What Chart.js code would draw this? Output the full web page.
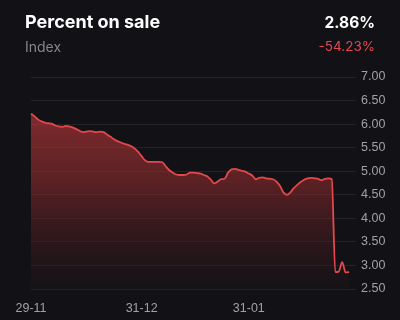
<!DOCTYPE html>
<html>
<head>
<meta charset="utf-8">
<script src="https://cdn.jsdelivr.net/npm/chart.js@4.4.1/dist/chart.umd.min.js"></script>
<style>
    html, body { margin: 0; padding: 0; background: #121216; }
    #wrap { position: relative; width: 400px; height: 320px; overflow: hidden; font-family: Inter, "Noto Sans", sans-serif; }
    #chart-box { position: absolute; left: 0; top: 0; width: 400px; height: 320px; }
    .title { position: absolute; left: 25px; top: 11px; color: #ffffff; font-size: 18px; font-weight: 700; }
    .sub { position: absolute; left: 25px; top: 38px; color: #85858b; font-size: 14px; }
    .value { position: absolute; right: 25px; top: 13px; color: #ffffff; font-size: 15.5px; font-weight: 700; }
    .change { position: absolute; right: 25px; top: 38px; color: #e5484d; font-size: 13.5px; }
</style>
</head>
<body>
<div id="wrap">
    <div id="chart-box"><canvas id="sale-chart"></canvas></div>
    <div class="title">Percent on sale</div>
    <div class="sub">Index</div>
    <div class="value">2.86%</div>
    <div class="change">-54.23%</div>
</div>
<script>
// daily series, 29-11 to 29-02
const startDate = '2023-11-29';
const dayCount = 95;
const shownTicks = ['29-11', '31-12', '31-01'];
const yTicks = [2.5, 3, 3.5, 4, 4.5, 5, 5.5, 6, 6.5, 7];
const percentOnSale = [
    6.22, 6.17, 6.10, 6.06, 6.03, 6.02, 6.01, 5.97, 5.95, 5.94,
    5.96, 5.95, 5.93, 5.90, 5.86, 5.83, 5.84, 5.85, 5.84, 5.83,
    5.84, 5.83, 5.78, 5.73, 5.68, 5.64, 5.61, 5.58, 5.56, 5.53,
    5.48, 5.41, 5.32, 5.23, 5.20, 5.20, 5.20, 5.20, 5.19, 5.10,
    5.02, 4.97, 4.93, 4.92, 4.92, 4.93, 4.97, 4.97, 4.96, 4.95,
    4.92, 4.89, 4.82, 4.74, 4.78, 4.83, 4.84, 4.97, 5.04, 5.05,
    5.03, 5.01, 4.99, 4.95, 4.91, 4.83, 4.86, 4.87, 4.85, 4.84,
    4.83, 4.78, 4.69, 4.55, 4.50, 4.55, 4.64, 4.71, 4.77, 4.82,
    4.85, 4.86, 4.85, 4.84, 4.81, 4.84, 4.85, 4.83, 2.86, 2.87,
    3.07, 2.85, 2.86
];

// build dd-mm labels
const labels = [];
const d0 = new Date(startDate + 'T12:00:00Z');
for (let i = 0; i < dayCount; i++) {
    const d = new Date(d0.getTime() + i * 86400000);
    const dd = String(d.getUTCDate()).padStart(2, '0');
    const mm = String(d.getUTCMonth() + 1).padStart(2, '0');
    labels.push(dd + '-' + mm);
}

const ctx = document.getElementById('sale-chart');

new Chart(ctx, {
    type: 'line',
    data: {
        labels: labels,
        datasets: [{
            data: percentOnSale,
            borderColor: '#e4484c',
            borderWidth: 1.8,
            pointRadius: 0,
            cubicInterpolationMode: 'monotone',
            fill: 'start',
            backgroundColor: function(context) {
                const area = context.chart.chartArea;
                if (!area) return 'rgba(200,60,60,0.5)';
                const g = context.chart.ctx.createLinearGradient(0, area.top, 0, area.bottom);
                g.addColorStop(0, 'rgba(205,62,64,0.72)');
                g.addColorStop(0.5, 'rgba(150,45,48,0.55)');
                g.addColorStop(1, 'rgba(30,20,24,0.3)');
                return g;
            }
        }]
    },
    options: {
        responsive: true,
        maintainAspectRatio: false,
        animation: false,
        layout: { padding: { top: 77, right: 15, bottom: 0, left: 31 } },
        plugins: {
            legend: { display: false },
            tooltip: { enabled: false }
        },
        scales: {
            x: {
                grid: { display: false, drawTicks: false, tickLength: 0 },
                border: { display: false },
                afterFit: function(axis) {
                    axis.paddingLeft = 0;
                    axis.paddingRight = 0;
                    axis.height = 31;
                },
                ticks: {
                    autoSkip: false,
                    maxRotation: 0,
                    padding: 12,
                    color: '#a0a0a6',
                    font: { family: '"Liberation Sans", Arial, sans-serif', size: 12.5 },
                    callback: function(value, index) {
                        const lab = labels[index];
                        return shownTicks.includes(lab) ? lab : null;
                    }
                }
            },
            y: {
                position: 'right',
                min: 2.5,
                max: 7,
                afterBuildTicks: function(axis) {
                    axis.ticks = yTicks.map(v => ({ value: v }));
                },
                afterFit: function(axis) {
                    axis.paddingTop = 0;
                    axis.paddingBottom = 0;
                    axis.width = 29;
                },
                grid: { color: '#222227', lineWidth: 1, drawTicks: false, tickLength: 0 },
                border: { display: false },
                ticks: {
                    padding: 5,
                    color: '#a0a0a6',
                    font: { family: '"Liberation Sans", Arial, sans-serif', size: 12.5 },
                    callback: function(value) { return Number(value).toFixed(2); }
                }
            }
        }
    }
});
</script>
</body>
</html>
